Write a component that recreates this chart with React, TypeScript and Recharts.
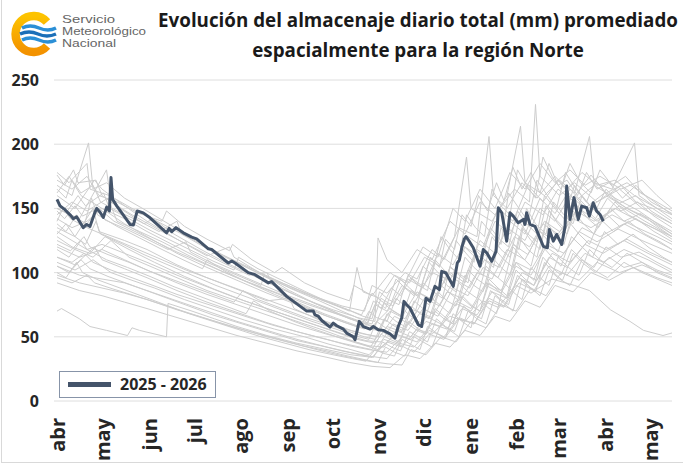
import React from "react";
import { LineChart, Line, XAxis, YAxis, CartesianGrid, Legend } from "recharts";

// ---- Axis definitions ----
const monthTicks = [0, 30, 61, 91, 122, 153, 183, 214, 244, 275, 306, 334, 365, 395];
const monthLabels = ["abr", "may", "jun", "jul", "ago", "sep", "oct", "nov", "dic", "ene", "feb", "mar", "abr", "may"];
const yTicks = [0, 50, 100, 150, 200, 250];

// ---- Current season 2025 - 2026 : [day since 1 abr, mm] ----
const season2025: number[][] = [
  [0, 157], [2, 152], [5.3, 149], [8.7, 145], [10.9, 142], [13.1, 143.5], [17.5, 135], [19.8, 137.5],
  [22, 136], [25.3, 147], [26.5, 150], [28.7, 147], [30.9, 143], [33.1, 151], [34.9, 148], [36, 174],
  [37.1, 157], [39.8, 152], [48.7, 137.5], [50.9, 137], [53.5, 148], [57.5, 146.5], [62, 142.7],
  [73.1, 131], [74.7, 134.4], [76.5, 131.8], [79.3, 135], [84.2, 131], [89.8, 127.6], [93.1, 126.3],
  [100.9, 118.5], [103.1, 118], [114.2, 107.5], [116.5, 109], [118.7, 107.5], [127.5, 100], [132, 98.4],
  [140.9, 92], [143.1, 93], [153.1, 81.5], [166.5, 70], [170.9, 70], [172, 67], [174.2, 66], [176.5, 62.7],
  [182, 57.5], [184.2, 60.7], [186.5, 58.6], [190.9, 56], [193.1, 52.9], [197.5, 50], [198.7, 47.7],
  [201.5, 62], [204.2, 58], [208.7, 56], [210.9, 58], [214.2, 55.5], [217.5, 55], [222, 52.3], [225.3, 49],
  [227.5, 58], [229.8, 64.6], [231.3, 77.6], [233.1, 75], [235.3, 72.4], [240.9, 59.4], [243.1, 58],
  [246, 80], [248.7, 77.6], [252, 89.3], [254.9, 86.7], [256.5, 101], [259.3, 99.7], [264.2, 89.3],
  [266.9, 107.6], [268.2, 109.6], [270, 120], [271.5, 126], [272.7, 128], [274.5, 125], [277.5, 119.3],
  [282, 105], [284.2, 118], [286.5, 115.4], [289.8, 108.8], [292.7, 116.6], [294.2, 150.5], [296.5, 146.6],
  [299.8, 124.5], [302, 146.6], [304.2, 144], [307.5, 138.8], [310.9, 141.4], [312, 137.5], [313.1, 146.6],
  [315.3, 137.5], [318.7, 136], [324.2, 120.5], [326.9, 119.3], [328.2, 133.6], [330.9, 124.5], [333.1, 129.7],
  [336.5, 121.9], [338.7, 136], [339.8, 167.4], [342, 141.4], [344.7, 158.4], [347.5, 141.4], [349.8, 151.8],
  [353.1, 150.5], [354.9, 144], [357.5, 154.4], [359.8, 147.9], [362, 145.3], [364.2, 140],
];

// ---- Historical seasons (grey) : [day since 1 abr, mm] ----
const hist01 = [[0,178],[8,170],[20,185],[22,165],[35,160],[50,150],[70,138],[90,126],[110,114],[130,103],[150,92],[170,82],[190,74],[205,70],[210,90],[220,84],[232,100],[240,95],[250,118],[258,110],[268,135],[280,128],[288,206],[291,160],[300,150],[310,170],[320,158],[332,175],[340,165],[350,178],[360,168],[372,172],[385,160],[400,150],[410,145]];
const hist02 = [[0,168],[10,160],[21,201],[24,165],[33,170],[45,158],[60,148],[80,134],[100,120],[120,108],[140,96],[160,86],[180,77],[195,70],[200,104],[204,85],[215,80],[225,98],[235,92],[245,112],[255,105],[265,128],[273,190],[276,150],[290,140],[300,160],[309,214],[312,170],[325,160],[335,172],[345,162],[355,206],[358,170],[370,165],[385,201],[388,160],[400,150],[410,142]];
const hist03 = [[0,160],[12,150],[25,172],[30,165],[45,152],[60,140],[80,126],[100,113],[115,120],[118,112],[135,100],[155,88],[175,78],[190,70],[200,65],[212,62],[214,127],[220,110],[230,100],[240,118],[250,110],[262,140],[272,130],[282,155],[292,145],[305,165],[315,155],[319,231],[322,175],[335,160],[345,170],[360,155],[375,165],[390,150],[410,138]];
const hist04 = [[0,150],[15,142],[33,180],[36,155],[50,145],[70,132],[90,120],[110,108],[128,98],[140,100],[143,92],[160,82],[180,72],[195,64],[210,58],[222,72],[230,66],[240,85],[250,78],[262,100],[272,92],[280,118],[290,110],[300,135],[312,125],[322,150],[332,140],[342,160],[352,150],[365,162],[380,150],[395,142],[410,132]];
const hist05 = [[0,142],[10,135],[20,140],[30,150],[45,138],[60,128],[80,115],[100,104],[120,94],[140,84],[160,75],[180,66],[195,60],[205,56],[212,75],[220,70],[230,90],[240,82],[250,100],[262,94],[272,120],[282,112],[292,140],[302,130],[312,155],[324,145],[334,165],[345,155],[358,168],[372,158],[388,148],[410,130]];
const hist06 = [[0,135],[12,128],[24,150],[28,132],[45,125],[60,118],[80,106],[100,96],[120,87],[140,78],[155,80],[158,72],[175,63],[192,56],[205,52],[215,50],[225,66],[235,60],[245,80],[255,74],[265,95],[275,88],[285,110],[295,104],[305,128],[315,120],[325,140],[335,132],[348,150],[360,140],[375,152],[392,140],[410,128]];
const hist07 = [[0,128],[10,120],[22,115],[32,128],[48,118],[65,108],[85,97],[105,87],[125,78],[145,70],[165,62],[185,54],[200,48],[212,45],[220,58],[230,54],[240,70],[250,65],[260,85],[270,80],[280,100],[290,95],[300,118],[312,110],[322,132],[332,125],[344,142],[356,135],[370,145],[385,136],[400,128],[410,122]];
const hist08 = [[0,120],[15,112],[30,118],[45,110],[60,102],[80,92],[100,83],[120,75],[140,67],[160,59],[180,52],[196,47],[208,43],[218,42],[226,55],[236,50],[246,66],[256,60],[266,78],[276,72],[286,92],[296,86],[306,108],[316,102],[326,122],[338,115],[350,135],[362,128],[378,138],[394,128],[410,118]];
const hist09 = [[0,112],[12,106],[25,120],[30,110],[45,103],[60,96],[80,86],[100,77],[120,69],[140,61],[160,54],[180,48],[195,43],[208,40],[220,38],[230,50],[240,46],[250,60],[260,56],[270,72],[280,67],[290,85],[300,80],[310,100],[320,94],[330,115],[342,108],[354,125],[366,118],[380,126],[395,116],[410,108]];
const hist10 = [[0,105],[15,98],[30,95],[45,92],[60,86],[80,78],[100,70],[120,62],[140,55],[160,48],[180,42],[195,38],[208,35],[220,33],[228,45],[238,42],[248,55],[258,50],[268,65],[278,60],[288,78],[298,73],[308,92],[318,86],[328,105],[340,98],[352,115],[364,108],[378,118],[394,110],[410,100]];
const hist11 = [[0,98],[15,92],[30,88],[45,84],[60,79],[80,71],[100,64],[120,57],[140,50],[160,44],[180,38],[195,34],[208,31],[220,29],[230,28],[236,40],[246,36],[256,50],[266,46],[276,62],[286,57],[296,75],[306,70],[316,88],[326,82],[336,100],[348,94],[360,108],[375,100],[390,106],[410,96]];
const hist12 = [[0,92],[15,86],[30,82],[45,77],[60,72],[80,65],[100,58],[120,51],[140,45],[160,39],[180,34],[195,30],[210,27],[222,26],[232,36],[242,33],[252,45],[262,42],[272,55],[282,51],[292,66],[302,62],[312,78],[322,73],[332,90],[344,85],[356,100],[368,94],[384,104],[400,96],[410,92]];
const hist13 = [[0,172],[10,165],[20,175],[28,160],[40,155],[55,146],[70,140],[73,148],[85,136],[100,126],[115,117],[117,122],[130,110],[145,100],[150,104],[165,92],[180,84],[195,78],[198,90],[210,82],[222,100],[232,92],[244,120],[254,112],[264,150],[272,140],[282,165],[292,150],[302,178],[312,165],[322,185],[332,170],[342,180],[352,168],[362,175],[376,165],[390,172],[400,160],[410,150]];
const hist14 = [[0,162],[8,175],[16,160],[30,150],[45,142],[60,132],[80,120],[100,108],[120,98],[136,90],[138,98],[155,86],[172,76],[188,68],[200,63],[210,60],[216,80],[224,74],[234,95],[244,88],[254,115],[264,106],[274,128],[284,120],[294,150],[304,140],[314,168],[324,155],[334,172],[344,158],[356,176],[366,162],[380,170],[395,158],[410,145]];
const hist15 = [[0,145],[10,155],[20,148],[34,158],[40,140],[55,132],[70,124],[90,112],[110,101],[128,92],[146,84],[162,76],[178,68],[192,62],[204,57],[214,55],[222,70],[232,64],[242,84],[252,78],[262,104],[272,96],[282,125],[292,115],[302,140],[312,130],[322,158],[332,146],[342,165],[354,150],[366,160],[380,150],[396,140],[410,130]];
const hist16 = [[0,132],[10,125],[20,118],[30,122],[45,115],[60,108],[80,98],[100,89],[120,80],[140,72],[160,64],[178,57],[194,51],[206,47],[216,46],[224,60],[234,55],[244,72],[254,66],[264,88],[274,82],[284,104],[294,96],[304,122],[314,114],[324,138],[334,130],[346,148],[358,140],[372,150],[388,140],[410,128]];
const hist17 = [[0,125],[12,118],[24,112],[36,125],[48,112],[64,104],[80,96],[100,86],[120,78],[140,70],[160,62],[178,55],[192,49],[204,44],[214,40],[226,52],[236,48],[246,62],[256,58],[266,76],[276,70],[286,90],[296,84],[306,105],[316,98],[326,120],[336,112],[348,132],[360,124],[374,134],[390,125],[410,115]];
const hist18 = [[0,108],[12,102],[24,110],[36,100],[50,94],[65,88],[85,79],[105,71],[125,63],[145,56],[165,50],[182,44],[196,40],[208,36],[218,48],[228,44],[238,38],[248,52],[258,48],[268,64],[278,60],[288,80],[298,74],[308,96],[318,90],[328,112],[340,104],[352,122],[364,115],[378,125],[394,115],[410,106]];
const hist19 = [[0,70],[3,72],[15,64],[22,58],[33,55],[40,53],[47,51],[50,57],[55,55],[73,50],[74,76],[90,70],[105,64],[120,58],[140,51],[160,45],[180,40],[196,36],[210,34],[220,46],[230,42],[240,56],[250,52],[262,66],[272,62],[284,78],[294,73],[306,90],[316,84],[330,95],[345,90],[355,86],[369,71],[382,62],[391,55],[404,51],[410,53]];
const hist20 = [[0,176],[5,168],[11,180],[14,170],[26,172],[30,160],[42,150],[58,138],[64,142],[78,130],[96,118],[112,108],[130,98],[148,88],[166,79],[184,71],[198,66],[206,62],[211,78],[216,72],[223,88],[229,82],[236,96],[243,90],[249,112],[255,104],[259,126],[265,118],[270,145],[276,136],[281,160],[287,148],[293,170],[298,156],[304,182],[310,165],[316,178],[322,162],[328,185],[334,168],[340,172],[347,160],[353,178],[360,165],[368,170],[377,158],[386,168],[396,155],[404,150],[410,146]];
const hist21 = [[0,140],[4,150],[9,142],[18,136],[23,158],[27,145],[40,136],[55,127],[70,118],[84,110],[97,103],[100,110],[112,101],[128,92],[145,83],[162,75],[178,67],[192,61],[202,57],[208,70],[213,65],[220,62],[226,80],[232,74],[239,70],[244,92],[251,85],[257,80],[262,105],[268,98],[274,92],[279,118],[285,110],[291,104],[296,135],[302,125],[308,118],[313,150],[319,138],[326,130],[331,155],[338,145],[344,138],[350,160],[357,150],[364,142],[372,155],[381,145],[392,138],[402,132],[410,126]];
const hist22 = [[0,100],[6,96],[13,108],[17,100],[28,94],[42,88],[56,82],[72,75],[88,68],[104,62],[120,56],[136,50],[152,45],[168,40],[184,36],[197,33],[206,31],[212,40],[218,37],[225,35],[230,48],[236,44],[242,40],[247,58],[253,53],[259,49],[264,68],[270,62],[276,57],[281,80],[287,73],[293,68],[298,92],[304,85],[310,79],[316,104],[322,96],[328,90],[334,112],[341,104],[348,98],[355,118],[362,110],[370,104],[380,115],[390,108],[400,102],[410,98]];
const hist23 = [[0,155],[7,148],[14,160],[19,152],[31,162],[35,150],[48,142],[62,133],[76,125],[90,117],[104,109],[118,102],[121,112],[134,103],[150,94],[166,85],[181,77],[194,71],[204,66],[210,64],[215,85],[221,79],[228,75],[234,98],[240,91],[247,86],[252,110],[258,102],[265,96],[270,122],[277,114],[283,108],[289,135],[295,126],[301,120],[307,148],[313,138],[320,130],[325,160],[332,150],[338,142],[345,168],[352,156],[359,148],[366,165],[375,154],[386,160],[396,148],[410,138]];
const hist24 = [[0,118],[8,112],[16,125],[20,118],[33,110],[47,104],[62,97],[78,89],[94,82],[110,75],[126,68],[131,78],[142,70],[158,62],[174,55],[189,49],[200,45],[209,42],[216,55],[222,50],[228,46],[234,62],[240,57],[246,52],[252,72],[258,66],[264,60],[270,82],[276,75],[282,70],[288,95],[294,88],[300,82],[306,108],[312,100],[318,94],[324,120],[330,112],[336,105],[343,128],[350,120],[357,112],[365,132],[374,122],[384,130],[394,120],[404,112],[410,108]];
const hist25 = [[0,165],[6,158],[10,172],[16,162],[24,168],[29,155],[40,148],[55,140],[68,132],[80,140],[83,130],[98,120],[114,111],[130,102],[146,94],[162,86],[178,78],[192,72],[203,67],[210,84],[216,78],[222,74],[229,95],[235,88],[241,82],[248,108],[254,100],[260,94],[266,125],[272,116],[278,108],[283,140],[290,130],[296,122],[301,162],[308,150],[314,140],[320,172],[327,160],[333,150],[339,178],[346,165],[353,155],[359,172],[367,160],[376,168],[386,155],[397,150],[410,140]];
const hist26 = [[0,96],[10,92],[20,98],[25,92],[38,87],[52,82],[68,76],[84,70],[100,64],[116,58],[132,53],[148,48],[164,43],[180,39],[194,35],[206,32],[214,30],[219,42],[225,38],[232,35],[238,50],[244,46],[250,42],[256,60],[262,55],[268,50],[274,70],[280,64],[286,60],[292,82],[298,76],[304,70],[310,95],[316,88],[322,82],[328,102],[335,95],[342,90],[350,110],[358,102],[367,96],[378,108],[390,100],[400,95],[410,90]];
const hist27 = [[0,130],[6,138],[12,128],[19,122],[26,140],[29,130],[44,122],[58,114],[74,106],[90,98],[106,90],[122,83],[138,76],[154,69],[170,62],[186,56],[198,51],[208,48],[213,62],[219,57],[226,53],[232,70],[238,64],[244,60],[250,80],[256,74],[262,68],[268,92],[274,85],[280,80],[286,105],[292,98],[298,92],[304,120],[310,112],[316,105],[322,132],[328,124],[334,116],[341,140],[348,130],[355,122],[362,142],[371,132],[381,140],[392,130],[402,124],[410,118]];
const hist28 = [[0,148],[5,142],[12,152],[17,144],[27,150],[32,141],[46,134],[60,126],[74,118],[86,124],[89,116],[104,107],[120,99],[136,91],[152,83],[168,76],[184,69],[196,64],[206,60],[212,58],[218,76],[224,70],[230,66],[236,86],[242,80],[248,75],[254,98],[260,90],[266,85],[272,112],[278,104],[284,98],[290,128],[296,118],[302,112],[308,140],[314,130],[320,124],[326,152],[332,142],[338,135],[345,160],[352,150],[359,142],[367,158],[376,148],[387,155],[398,144],[410,135]];
const hist29 = [[0,112],[10,108],[18,115],[24,108],[36,102],[50,96],[64,90],[80,83],[96,77],[112,71],[128,65],[144,59],[160,54],[176,49],[190,45],[202,42],[210,40],[216,52],[222,48],[228,45],[234,60],[240,55],[246,52],[252,70],[258,64],[264,60],[270,80],[276,74],[282,70],[288,92],[294,86],[300,80],[306,102],[312,95],[318,90],[324,112],[330,104],[336,98],[343,118],[350,110],[358,104],[366,120],[376,112],[388,116],[400,108],[410,102]];
const hist30 = [[0,150],[10,144],[20,138],[28,150],[38,140],[52,132],[66,124],[80,116],[94,109],[108,102],[122,95],[138,88],[154,81],[170,74],[186,68],[198,63],[207,60],[213,78],[219,72],[226,95],[232,88],[238,82],[244,105],[250,98],[256,128],[262,118],[268,110],[273,145],[279,135],[285,128],[290,165],[296,152],[302,145],[307,180],[313,168],[319,158],[324,190],[330,175],[336,165],[342,185],[349,170],[356,162],[362,180],[370,168],[379,175],[389,162],[400,155],[410,148]];
const hist31 = [[0,122],[9,117],[18,128],[22,120],[34,114],[48,108],[62,101],[76,95],[90,89],[104,83],[118,77],[124,86],[134,79],[150,72],[166,65],[182,59],[195,54],[205,50],[212,48],[218,64],[224,59],[230,55],[236,74],[242,68],[248,64],[254,85],[260,78],[266,74],[272,98],[278,90],[284,85],[290,112],[296,104],[302,98],[308,128],[314,118],[320,112],[326,140],[332,130],[338,122],[344,148],[351,138],[358,130],[366,146],[375,136],[386,142],[398,132],[410,124]];
const hist32 = [[0,105],[8,100],[16,110],[22,103],[34,97],[48,91],[62,85],[76,79],[90,73],[104,67],[118,62],[132,57],[146,52],[160,47],[176,43],[190,39],[202,36],[211,34],[217,46],[223,42],[229,39],[235,54],[241,50],[247,46],[253,64],[259,58],[265,54],[271,74],[277,68],[283,64],[289,86],[295,80],[301,75],[307,98],[313,90],[319,85],[325,108],[331,100],[337,94],[344,115],[351,107],[359,100],[368,112],[378,104],[390,108],[400,100],[410,95]];
const hist33 = [[0,138],[6,132],[13,145],[18,136],[30,130],[44,123],[58,116],[72,109],[86,102],[100,96],[114,90],[128,84],[142,78],[156,72],[170,66],[184,60],[196,55],[206,52],[214,50],[220,68],[226,62],[232,58],[238,78],[244,72],[250,68],[256,90],[262,84],[268,78],[274,102],[280,95],[286,90],[292,118],[298,110],[304,104],[310,135],[316,125],[322,118],[328,148],[334,138],[340,130],[347,152],[354,142],[361,135],[369,150],[378,140],[389,146],[400,136],[410,128]];

const historical = [hist01, hist02, hist03, hist04, hist05, hist06, hist07, hist08, hist09, hist10,
  hist11, hist12, hist13, hist14, hist15, hist16, hist17, hist18, hist19, hist20, hist21, hist22,
  hist23, hist24, hist25, hist26, hist27, hist28, hist29, hist30, hist31, hist32, hist33];

const toRows = (pairs: number[][]) => pairs.map(([d, v]) => ({ d, v }));

const FONT = "'Open Sans', 'DejaVu Sans', sans-serif";

const YTick = (props: any) => {
  const { y, payload } = props;
  return (
    <text x={39} y={y} dy={6} textAnchor="end" fontFamily={FONT} fontWeight={700} fontSize={16} fill="#262626">
      {payload.value}
    </text>
  );
};

const XTick = (props: any) => {
  const { x, index } = props;
  const label = monthLabels[index] ?? "";
  return (
    <text transform={`translate(${x + 8},418) rotate(-90)`} textAnchor="end" fontFamily={FONT} fontWeight={700} fontSize={20} fill="#262626">
      {label}
    </text>
  );
};

const LegendBox = () => (
  <div style={{ width: 157, height: 27, border: "1px solid #8794a8", background: "#fff", boxSizing: "border-box", display: "flex", alignItems: "center" }}>
    <div style={{ width: 43, height: 5, background: "#44546a", marginLeft: 8, marginRight: 9 }} />
    <span style={{ fontFamily: FONT, fontWeight: 700, fontSize: 16, color: "#262626", lineHeight: "27px" }}>2025 - 2026</span>
  </div>
);

const Header = () => (
  <svg width={683} height={75} style={{ position: "absolute", left: 0, top: 0 }}>
    <defs>
      <linearGradient id="ring" x1="0" y1="0" x2="0" y2="1">
        <stop offset="0" stopColor="#fdc300" />
        <stop offset="1" stopColor="#f39200" />
      </linearGradient>
    </defs>
    <path d="M47,22 A18,18 0 1 0 47,46" fill="none" stroke="url(#ring)" strokeWidth={8.5} />
    <path d="M22,28 q8,-4 17,0 t17,0" fill="none" stroke="#2b8fd6" strokeWidth={3.5} />
    <path d="M20,34 q9,-4 18,0 t18,0" fill="none" stroke="#1b6fb8" strokeWidth={3.5} />
    <path d="M22,40 q8,-4 17,0 t17,0" fill="none" stroke="#2b8fd6" strokeWidth={3.5} />
    <g fontFamily="'Liberation Sans', Arial, sans-serif" fontSize={11} fill="#666">
      <text x={62} y={23} textLength={53} lengthAdjust="spacingAndGlyphs">Servicio</text>
      <text x={62} y={35} textLength={84} lengthAdjust="spacingAndGlyphs">Meteorológico</text>
      <text x={62} y={47} textLength={54} lengthAdjust="spacingAndGlyphs">Nacional</text>
    </g>
    <g fontFamily={FONT} fontWeight={700} fontSize={18.8} fill="#1a1a1a" textAnchor="middle">
      <text x={418} y={27}>Evolución del almacenaje diario total (mm) promediado</text>
      <text x={418} y={57}>espacialmente para la región Norte</text>
    </g>
  </svg>
);

export default function App() {
  return (
    <div style={{ position: "absolute", left: 0, top: 0, width: 683, height: 464, background: "#fff", overflow: "hidden" }}>
      <div style={{ position: "absolute", left: 1, top: 0, width: 0, height: 462, borderLeft: "1px solid #d9d9d9" }} />
      <div style={{ position: "absolute", left: 1, top: 462, width: 682, height: 0, borderTop: "1px solid #d9d9d9" }} />
      <Header />
      <div style={{ position: "absolute", left: 0, top: 0 }}>
        <LineChart width={683} height={464} margin={{ top: 80, right: 11, bottom: 3, left: 0 }}>
          <CartesianGrid vertical={false} stroke="#dedede" />
          <XAxis type="number" dataKey="d" domain={[-2, 410]} ticks={monthTicks} interval={0}
            axisLine={false} tickLine={false} height={60} tick={<XTick />} allowDataOverflow />
          <YAxis type="number" domain={[0, 250]} ticks={yTicks} width={54}
            axisLine={false} tickLine={false} tick={<YTick />} />
          {historical.map((h, i) => (
            <Line key={`h${i}`} data={toRows(h)} dataKey="v" type="linear" stroke="#cdcdcd" strokeWidth={1}
              dot={false} isAnimationActive={false} legendType="none" name={`h${i}`} />
          ))}
          <Line data={toRows(season2025)} dataKey="v" type="linear" stroke="#44546a" strokeWidth={3}
            strokeLinejoin="round" dot={false} isAnimationActive={false} name="2025 - 2026" />
          <Legend layout="vertical" align="center" verticalAlign="middle" content={<LegendBox />}
            wrapperStyle={{ left: 59, top: 371, width: 157, height: 27 }} />
        </LineChart>
      </div>
    </div>
  );
}
